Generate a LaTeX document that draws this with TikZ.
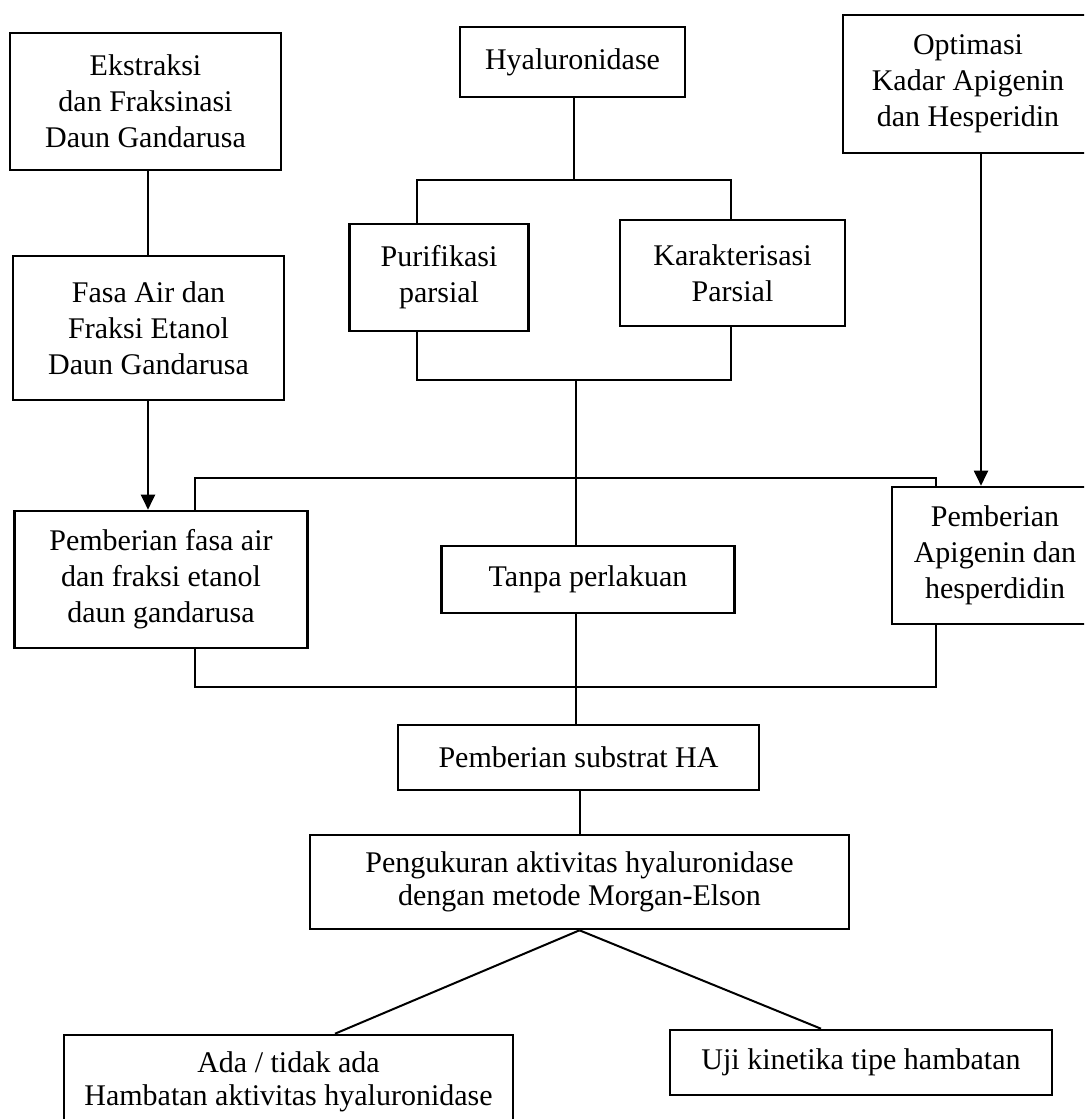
\documentclass[tikz,border=0pt]{standalone}
\usepackage{fontspec}
\setmainfont{Liberation Serif}
\usetikzlibrary{arrows.meta}
\tikzset{
  box/.style={draw, line width=1.3pt, inner sep=0pt, align=center,
    font=\fontsize{15}{18}\selectfont},
  lowbox/.style={box, font=\fontsize{15}{16.5}\selectfont},
  conn/.style={line width=1pt},
  arr/.style={conn, -{Triangle[length=7.5pt,width=7pt]}}
}
\begin{document}
\begin{tikzpicture}[x=0.5pt,y=-0.5pt]
\useasboundingbox (0,0) rectangle (1084,1119);
\fill[white] (0,0) rectangle (1084,1119);
\clip (0,0) rectangle (1084,1119);

% boxes
\node[box, minimum width=135.5pt, minimum height=68.5pt] (ekstr) at (145.5,101.5) {Ekstraksi\\dan Fraksinasi\\Daun Gandarusa};
\node[box, minimum width=112.5pt, minimum height=35pt] (hyal) at (572.5,62) {Hyaluronidase};
\node[box, minimum width=125pt, minimum height=69pt] (optim) at (968,84) {Optimasi\\Kadar Apigenin\\dan Hesperidin};
\node[box, minimum width=89.5pt, minimum height=53.5pt] (puri) at (439,277.5) {Purifikasi\\parsial};
\node[box, minimum width=112.5pt, minimum height=53pt] (karak) at (732.5,273) {Karakterisasi\\Parsial};
\node[box, minimum width=135.5pt, minimum height=72pt] (fasa) at (148.5,328) {Fasa Air dan\\Fraksi Etanol\\Daun Gandarusa};
\node[box, minimum width=146.75pt, minimum height=68.5pt] (pfasa) at (161,579.5) {Pemberian fasa air\\dan fraksi etanol\\daun gandarusa};
\node[box, minimum width=146.5pt, minimum height=33.5pt] (tanpa) at (588,579.5) {Tanpa perlakuan};
\node[box, minimum width=103pt, minimum height=68.5pt] (papi) at (995,555.5) {Pemberian\\Apigenin dan\\hesperdidin};
\node[box, minimum width=180.5pt, minimum height=32.5pt] (subs) at (578.5,757.5) {Pemberian substrat HA};
\node[lowbox, minimum width=269.5pt, minimum height=47pt] (peng) at (579.5,882) {Pengukuran aktivitas hyaluronidase\\dengan metode Morgan-Elson};
\node[lowbox, minimum width=224.5pt, minimum height=46.5pt] (ada) at (288.5,1081.5) {Ada / tidak ada\\Hambatan aktivitas hyaluronidase};
\node[lowbox, minimum width=191pt, minimum height=32.5pt] (uji) at (861,1062.5) {Uji kinetika tipe hambatan};

% bend points
\coordinate (lx) at (148,0);
\coordinate (c1) at (574,180);
\coordinate (pl) at (417,180);
\coordinate (kr) at (731,180);
\coordinate (pb) at (417,380);
\coordinate (kb) at (731,380);
\coordinate (c2) at (576,380);
\coordinate (tl) at (195,478);
\coordinate (tr) at (936,478);
\coordinate (bl) at (195,687);
\coordinate (br) at (936,687);
\coordinate (ax) at (981,0);
\coordinate (dl) at (335,0);
\coordinate (dr) at (821,0);

% connectors
\draw[conn] (ekstr.south -| lx) -- (fasa.north -| lx);
\draw[arr] (fasa.south -| lx) -- (pfasa.north -| lx);
\draw[conn] (hyal.south -| c1) -- (c1);
\draw[conn] (puri.north -| pl) -- (pl) -- (kr) -- (karak.north -| kr);
\draw[conn] (puri.south -| pb) -- (pb) -- (kb) -- (karak.south -| kb);
\draw[conn] (c2) -- (tanpa.north -| c2);
\draw[conn] (pfasa.north -| tl) -- (tl) -- (tr) -- (papi.north -| tr);
\draw[conn] (pfasa.south -| bl) -- (bl) -- (br) -- (papi.south -| br);
\draw[arr] (optim.south -| ax) -- (papi.north -| ax);
\draw[conn] (tanpa.south -| c2) -- (subs.north -| c2);
\draw[conn] (subs.south -| peng.north) -- (peng.north);
\draw[conn] (peng.south) -- (ada.north -| dl);
\draw[conn] (peng.south) -- (uji.north -| dr);
\end{tikzpicture}
\end{document}
